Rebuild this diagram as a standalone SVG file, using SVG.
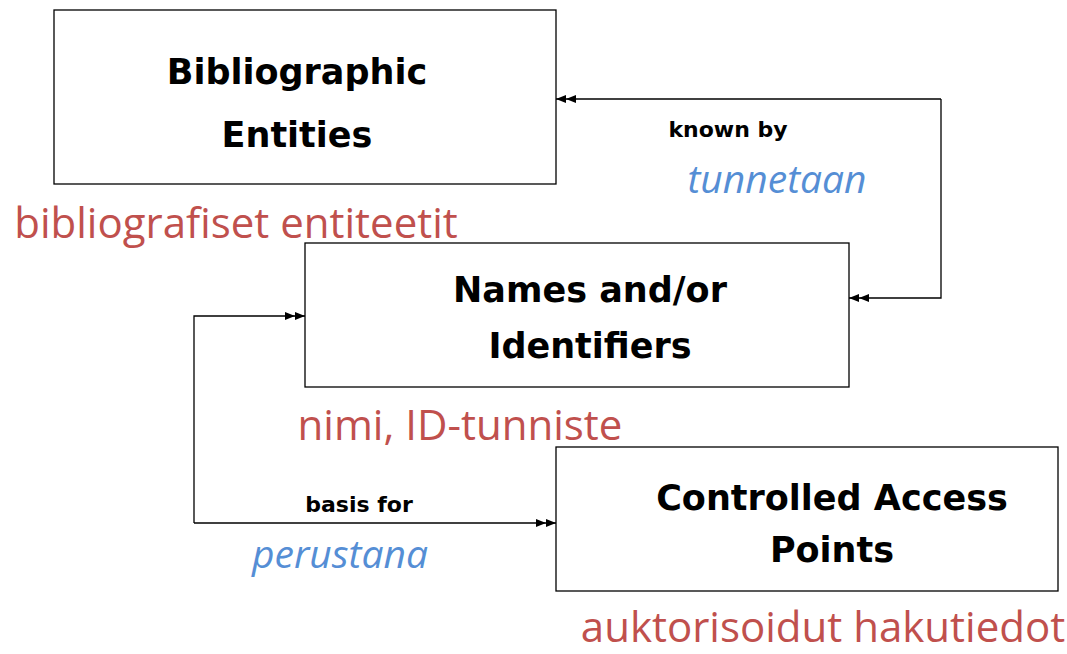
<svg xmlns="http://www.w3.org/2000/svg" width="1067" height="654" viewBox="0 0 1067 654">
<style>
.box{fill:#fff;stroke:#000;stroke-width:1.3}
.t{font-family:"DejaVu Sans",sans-serif;font-weight:bold;font-size:35px;fill:#000;text-anchor:middle}
.lbl{font-family:"DejaVu Sans",sans-serif;font-weight:bold;font-size:22px;fill:#000;text-anchor:middle}
.fi{font-family:"Open Sans","Noto Sans",sans-serif;font-size:42px;fill:#C0504D;text-anchor:middle}
.bl{font-family:"Open Sans","Noto Sans",sans-serif;font-style:italic;font-size:39px;fill:#558ED5;text-anchor:middle}
.c{fill:none;stroke:#000;stroke-width:1.3}
</style>
<defs>
<marker id="dbl" viewBox="0 0 20 10" refX="20" refY="5" markerWidth="20" markerHeight="10" markerUnits="userSpaceOnUse" orient="auto">
<path d="M0,1 L10,5 L0,9 Z M10,1 L20,5 L10,9 Z" fill="#000"/>
</marker>
</defs>
<g id="connectors">
<path class="c" d="M941,99 L556,99" marker-end="url(#dbl)"/>
<path class="c" d="M941,99 L941,298 L849,298" marker-end="url(#dbl)"/>
<path class="c" d="M194,523 L194,316 L305,316" marker-end="url(#dbl)"/>
<path class="c" d="M194,523 L556,523" marker-end="url(#dbl)"/>
</g>
<g id="bibliographic-entities">
<rect class="box" x="54" y="10" width="502" height="174"/>
<text class="t" x="297" y="84">Bibliographic</text>
<text class="t" x="297" y="147">Entities</text>
</g>
<g id="names-identifiers">
<rect class="box" x="305" y="243" width="544" height="144"/>
<text class="t" x="590" y="302">Names and/or</text>
<text class="t" x="590" y="358">Identifiers</text>
</g>
<g id="controlled-access-points">
<rect class="box" x="556" y="447" width="502" height="144"/>
<text class="t" x="832" y="510">Controlled Access</text>
<text class="t" x="832" y="562">Points</text>
</g>
<g id="labels">
<text class="fi" x="236" y="238">bibliografiset entiteetit</text>
<text class="fi" x="460" y="440">nimi, ID-tunniste</text>
<text class="fi" x="823" y="642">auktorisoidut hakutiedot</text>
<text class="lbl" x="728" y="137">known by</text>
<text class="bl" x="777" y="193">tunnetaan</text>
<text class="lbl" x="359" y="512">basis for</text>
<text class="bl" x="340" y="568">perustana</text>
</g>
</svg>
